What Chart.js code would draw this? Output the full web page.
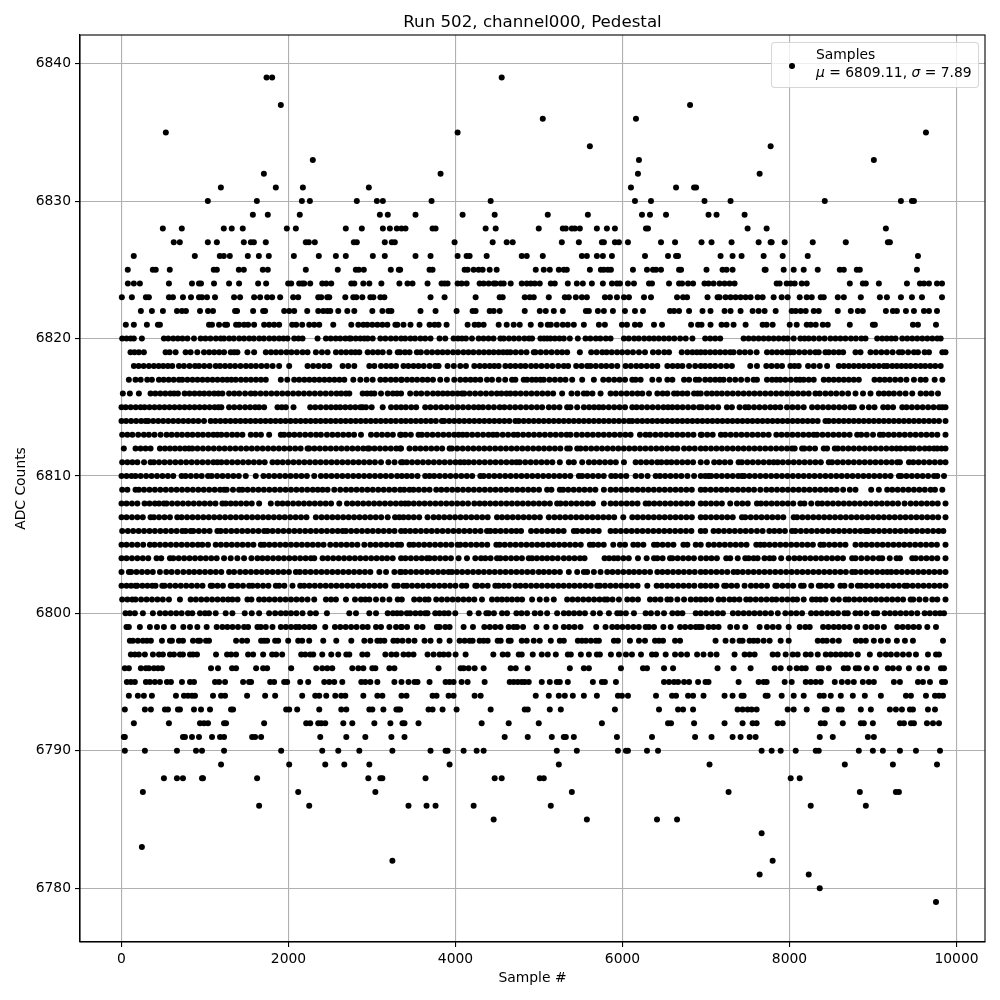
<!DOCTYPE html>
<html>
<head>
<meta charset="utf-8">
<title>Run 502, channel000, Pedestal</title>
<script src="https://cdn.jsdelivr.net/npm/chart.js@4"></script>
<style>
  body { margin: 0; background: #fff; }
  #wrap { position: relative; width: 1000px; height: 1000px; }
  #legend {
    position: absolute; left: 771px; top: 42px; width: 206px; height: 44px;
    background: rgba(255,255,255,0.8); border: 1px solid rgba(204,204,204,0.8); border-radius: 4px;
    font: 13.89px "DejaVu Sans", sans-serif; color: #000;
  }
  #legend .dot { position: absolute; left: 17px; top: 20px; width: 5.8px; height: 5.8px; border-radius: 50%; background: #000; }
  #legend .txt { position: absolute; left: 44px; top: 2px; line-height: 18px; white-space: nowrap; }
</style>
</head>
<body>
<div id="wrap">
  <canvas id="chart" width="1000" height="1000"></canvas>
  <div id="legend"><span class="dot"></span><div class="txt">Samples<br><i>μ</i> = 6809.11, <i>σ</i> = 7.89</div></div>
</div>
<script>
// Tick labels
const xTicks = [0, 2000, 4000, 6000, 8000, 10000];
const yTicks = [6780, 6790, 6800, 6810, 6820, 6830, 6840];

// ADC levels, and the sample numbers seen on each level
const levels = [6839,6837,6836,6835,6834,6833,6832,6831,6830,6829,6828,6827,6826,6825,6824,6823,6822,6821,
  6820,6819,6818,6817,6816,6815,6814,6813,6812,6811,6810,6809,6808,6807,6806,6805,6804,6803,6802,6801,6800,6799,
  6798,6797,6796,6795,6794,6793,6792,6791,6790,6789,6788,6787,6786,6785,6784,6783,6782,6781,6780,6779];

const samples = [
[1737,1804,4553],
[1908,6809],
[5045,6161],
[531,4025,9634],
[5609,7774],
[2291,6197,9010],
[1705,3821,6185,7642],
[1190,1848,2172,2962,6101,6641,6857,6881],
[1034,1621,2160,2256,2818,3058,3130,3713,4421,6149,6341,6982,7294,8422,9334,9466,9490],
[1573,1752,2135,3094,3189,3521,4085,4469,5105,5585,6233,6329,6521,7030,7126,7462],
[495,722,1225,1320,1452,1980,2088,2686,2878,3130,3214,3297,3353,3401,3725,3761,4361,4481,4997,5285,5321,5393,5429,5489,5693,5813,5909,6281,6305,7498,7726,9154],
[626,698,1034,1142,1465,1549,1585,1728,2207,2243,2315,2782,2818,3153,3237,3273,3989,4445,4613,4685,5273,5477,5753,5777,5909,5957,6065,6461,6629,6946,7066,7306,7630,7774,7786,7942,8278,8674,9178,9202],
[147,878,1177,1225,1297,1513,1645,1764,2064,2363,2567,2686,3010,3153,3521,3701,4025,4133,4169,4373,4793,4853,5045,5513,5573,5693,5765,5873,6269,6545,6641,6665,7174,7318,7426,7690,7918,8218,9538],
[75,375,410,578,1105,1142,1405,1465,1692,1752,2207,2590,2806,2842,2902,3225,3321,3337,3689,3725,4109,4145,4217,4277,4325,4409,4493,4961,5057,5129,5237,5297,5333,5609,5741,5777,5825,5861,6125,6293,6365,6401,6461,6677,6701,7006,7198,7246,7318,7702,7714,7930,8050,8170,8338,8602,8650,8806,8842,9526],
[76,148,220,568,844,928,952,1108,1288,1408,1636,1732,1996,2032,2128,2164,2188,2260,2404,2452,2512,2752,2788,2896,2968,3112,3328,3425,3485,3665,3833,3869,3905,4025,4073,4133,4289,4337,4397,4457,4481,4541,4577,4661,4793,4853,4901,4949,5009,5141,5189,5345,5453,5525,5633,5765,5873,5933,5969,6065,6137,6317,6353,6557,6677,6713,6785,6845,6982,7030,7090,7162,7222,7282,7342,7846,7882,7966,8014,8062,8146,8206,8722,8878,8914,9070,9406,9562,9610,9670,9766,9826],
[4,124,292,328,568,616,736,832,928,964,1024,1120,1348,1420,1588,1660,1744,1804,1900,2056,2116,2356,2392,2464,2488,2680,2776,2812,2884,2980,3016,3100,3148,3701,3869,4241,4529,4565,4829,4889,4937,5117,5309,5357,5441,5513,5573,5789,5849,5933,6017,6077,6257,6341,6653,6725,6773,7018,7138,7162,7234,7294,7354,7414,7474,7534,7618,7678,7810,7906,7978,8122,8206,8266,8374,8410,8578,8650,8854,9082,9166,9334,9466,9586,9826],
[232,364,496,664,724,772,940,1036,1096,1360,1384,1576,1696,1720,1948,2008,2068,2224,2356,2416,2464,2500,2596,2704,2788,3004,3124,3196,3232,3581,3761,4013,4205,4241,4409,4457,4529,4829,5009,5081,5177,5285,5561,5597,5705,5777,5885,6029,6149,6245,6569,6617,6677,6797,6958,7054,7222,7294,7414,7558,7630,7702,7834,8026,8074,8134,8194,8290,8350,8578,8734,8818,8878,9154,9238,9286,9394,9490,9610,9670,9766],
[52,148,304,436,460,1048,1084,1168,1240,1264,1372,1408,1468,1516,1588,1708,1768,1828,1888,2044,2092,2164,2248,2308,2368,2536,2752,2836,2896,2944,3004,3064,3124,3184,3280,3304,3377,3461,3569,3689,3749,3797,3893,4145,4229,4277,4337,4517,4613,4697,4769,4901,5021,5105,5141,5213,5285,5345,5417,5537,5717,5789,5993,6053,6149,6209,6377,6473,6821,6905,6946,7054,7186,7246,7330,7474,7678,7726,7798,8002,8086,8206,8254,8314,8398,8458,8722,8998,9022,9478,9538,9754],
// 6820
[8,60,110,148,244,508,560,620,675,730,790,868,948,1005,1065,1130,1188,1228,1290,1345,1410,1468,1530,1585,1650,1705,1770,1828,1888,1940,1988,2068,2120,2168,2348,2448,2505,2565,2620,2680,2728,2748,2805,2860,2908,2948,3008,3100,3160,3225,3285,3348,3397,3460,3515,3580,3637,3701,3809,3877,3977,4030,4077,4125,4197,4277,4335,4395,4455,4537,4577,4640,4700,4760,4825,4880,4917,5017,5060,5097,5137,5190,5245,5297,5369,5465,5557,5615,5680,5735,5800,5857,6017,6075,6140,6195,6260,6320,6377,6435,6497,6557,6620,6690,6757,6837,6990,7050,7110,7170,7450,7510,7570,7630,7690,7750,7810,7870,7930,7978,8050,8130,8180,8230,8290,8355,8420,8490,8550,8610,8670,8735,8795,8860,8910,9050,9110,9165,9220,9270,9350,9410,9470,9530,9590,9650,9710,9770,9810],
// 6819
[108,156,208,268,528,576,648,768,828,908,988,1050,1110,1170,1228,1308,1350,1388,1508,1588,1728,1790,1850,1910,1975,2035,2100,2168,2228,2328,2400,2468,2568,2630,2690,2750,2800,2848,2948,3010,3070,3128,3208,3308,3337,3395,3450,3537,3585,3657,3720,3785,3845,3905,3970,4030,4095,4155,4215,4280,4340,4400,4457,4517,4570,4617,4657,4720,4785,4850,4937,4957,5020,5085,5150,5217,5277,5337,5489,5625,5690,5757,5809,5870,5935,5995,6060,6125,6197,6269,6365,6430,6500,6557,6709,6777,6837,6890,6937,6990,7050,7110,7170,7230,7290,7330,7402,7465,7530,7606,7730,7790,7850,7910,7970,8010,8050,8115,8180,8245,8310,8350,8430,8470,8530,8590,8642,8790,8850,8970,9035,9100,9165,9235,9310,9350,9420,9490,9538,9618,9670,9830,9868],
// 6818
[148,205,265,328,388,445,500,555,608,688,748,815,880,928,990,1055,1128,1180,1240,1300,1360,1425,1490,1550,1610,1675,1740,1810,1888,2008,2228,2295,2360,2428,2488,2648,2715,2788,2968,3028,3108,3170,3230,3288,3377,3435,3497,3557,3620,3690,3757,3797,3905,3980,4057,4125,4225,4290,4350,4410,4465,4517,4597,4657,4717,4780,4837,4905,4965,5030,5095,5160,5230,5297,5349,5445,5510,5577,5617,5680,5745,5805,5870,5937,6037,6100,6165,6225,6290,6355,6417,6537,6600,6660,6717,6797,6870,6937,6990,7050,7110,7178,7245,7310,7530,7610,7722,7785,7850,7910,8010,8060,8110,8222,8290,8362,8450,8590,8650,8710,8770,8830,8890,8950,9010,9070,9130,9170,9230,9285,9340,9395,9450,9510,9570,9625,9685,9745,9810],
// 6817
[88,168,230,308,364,448,505,565,625,688,728,790,850,910,970,1030,1090,1150,1210,1265,1316,1368,1430,1490,1550,1610,1670,1728,1908,1985,2068,2128,2190,2250,2310,2370,2430,2490,2550,2610,2668,2776,2860,2935,3008,3100,3160,3225,3285,3348,3357,3420,3480,3540,3605,3665,3730,3817,3897,3985,4057,4120,4180,4237,4297,4377,4437,4517,4595,4677,4717,4817,4857,4915,4965,5017,5057,5125,5190,5255,5317,5397,5517,5657,5769,5835,5900,5965,6030,6117,6157,6217,6357,6437,6537,6597,6737,6797,6877,6917,6990,7050,7110,7165,7210,7282,7350,7420,7495,7570,7610,7730,7790,7842,7890,7950,8015,8080,8125,8170,8230,8290,8410,8470,8530,8590,8650,8710,8770,8830,9018,9080,9140,9200,9265,9330,9400,9490,9570,9630,9738,9830],
// 6816
[16,100,208,348,405,465,525,585,630,676,756,815,875,935,990,1050,1110,1160,1208,1288,1350,1410,1480,1548,1600,1665,1730,1795,1860,1925,1990,2055,2120,2185,2250,2315,2380,2445,2510,2575,2630,2688,2728,2888,2940,2988,3028,3108,3188,3250,3300,3348,3457,3529,3590,3660,3730,3790,3849,3905,3965,4025,4077,4105,4170,4235,4300,4365,4430,4495,4550,4610,4657,4717,4780,4845,4910,4975,5040,5105,5169,5277,5389,5460,5537,5577,5640,5737,5857,5920,5985,6050,6115,6180,6237,6317,6417,6480,6537,6617,6657,6717,6777,6857,6900,6937,7010,7070,7130,7190,7255,7320,7385,7450,7515,7580,7645,7710,7775,7840,7905,7970,8035,8100,8165,8230,8310,8362,8430,8495,8560,8630,8702,8790,8880,8970,9070,9130,9190,9250,9320,9390,9470,9570,9635,9700,9778],
// 6815
[0,50,110,170,228,276,335,395,455,515,575,635,695,755,815,875,935,995,1055,1115,1160,1196,1288,1350,1415,1480,1540,1600,1648,1708,1868,1920,1968,2060,2260,2320,2385,2450,2510,2568,2620,2680,2740,2800,2860,2888,2928,2996,3128,3228,3290,3348,3405,3470,3529,3637,3700,3765,3830,3895,3960,4025,4090,4155,4220,4277,4329,4395,4460,4529,4585,4650,4715,4780,4845,4910,4975,5037,5117,5180,5245,5337,5377,5457,5537,5600,5660,5717,5769,5835,5900,5965,6030,6117,6169,6230,6295,6360,6425,6490,6545,6597,6657,6720,6785,6850,6917,6950,7015,7080,7145,7250,7310,7402,7470,7510,7575,7640,7705,7770,7830,7890,7970,8035,8100,8170,8270,8335,8400,8465,8530,8595,8660,8730,8770,8870,8950,9018,9122,9178,9240,9350,9402,9465,9530,9595,9660,9725,9790,9830,9868],
// 6814
[0,55,115,175,235,288,320,380,440,500,560,620,680,740,800,860,920,988,1068,1125,1185,1245,1305,1365,1425,1485,1545,1605,1665,1725,1785,1845,1905,1965,2025,2085,2145,2205,2265,2325,2385,2445,2505,2565,2625,2685,2745,2805,2865,2925,2985,3045,3105,3165,3225,3285,3348,3405,3465,3525,3585,3645,3705,3765,3837,3865,3925,3985,4045,4105,4165,4225,4285,4345,4405,4465,4525,4585,4645,4717,4757,4817,4877,4937,4997,5057,5117,5177,5237,5297,5357,5417,5477,5537,5597,5657,5717,5777,5837,5897,5957,6017,6077,6117,6177,6237,6297,6357,6417,6477,6537,6597,6657,6717,6777,6837,6897,6957,7017,7077,7137,7197,7257,7317,7377,7437,7497,7557,7617,7677,7737,7797,7857,7917,7977,8037,8097,8157,8217,8277,8337,8430,8470,8530,8590,8650,8710,8770,8830,8890,8950,9010,9070,9130,9190,9250,9310,9370,9430,9490,9550,9610,9670,9730,9790,9868],
// 6813
[8,70,130,200,268,328,395,468,540,600,665,725,790,850,915,975,1040,1100,1148,1196,1260,1325,1385,1448,1548,1610,1670,1768,1908,1948,2008,2070,2135,2200,2265,2330,2388,2460,2525,2590,2655,2720,2785,2868,2988,3055,3120,3185,3250,3348,3337,3400,3465,3557,3597,3660,3725,3790,3855,3920,3985,4037,4085,4137,4200,4265,4330,4395,4449,4497,4565,4630,4697,4745,4810,4875,4940,5005,5070,5135,5200,5265,5330,5377,5449,5515,5580,5645,5710,5775,5840,5905,5970,6035,6097,6209,6277,6329,6395,6460,6525,6590,6655,6720,6785,6850,6937,6950,7015,7080,7178,7230,7295,7360,7425,7490,7555,7620,7685,7750,7842,7905,7970,8035,8100,8165,8230,8290,8330,8395,8460,8525,8590,8655,8720,8810,8858,8925,9000,9082,9122,9185,9250,9315,9380,9445,9510,9575,9640,9705,9770,9868],
// 6812
[28,168,228,288,348,460,520,580,640,700,760,808,848,910,975,1040,1105,1170,1235,1300,1365,1430,1495,1560,1625,1690,1755,1820,1885,1950,2015,2080,2145,2228,2248,2310,2375,2440,2505,2570,2635,2700,2765,2830,2895,2948,2968,3030,3095,3160,3225,3290,3348,3337,3449,3517,3580,3645,3710,3775,3840,3929,3957,4020,4085,4150,4215,4280,4345,4410,4475,4540,4605,4670,4735,4800,4865,4930,4995,5060,5125,5190,5255,5337,5369,5457,5497,5560,5625,5690,5755,5820,5885,5950,6015,6080,6145,6210,6275,6340,6405,6470,6535,6600,6657,6737,6800,6865,6937,6995,7060,7125,7190,7255,7320,7385,7450,7515,7580,7645,7710,7775,7840,7905,7970,8030,8062,8150,8178,8240,8305,8410,8450,8542,8578,8640,8705,8770,8835,8900,8965,9030,9095,9160,9225,9282,9330,9390,9450,9490,9555,9620,9675,9730,9770,9820,9868],
// 6811
[8,70,130,190,270,348,388,450,515,580,645,710,775,840,905,970,1035,1100,1148,1196,1260,1325,1390,1455,1520,1585,1650,1715,1808,1868,1930,1995,2060,2125,2190,2255,2320,2385,2450,2515,2580,2645,2710,2775,2840,2905,2970,3035,3108,3196,3270,3348,3369,3417,3480,3545,3610,3675,3740,3805,3870,3935,4000,4057,4105,4157,4220,4285,4350,4415,4480,4545,4610,4675,4729,4769,4835,4900,4965,5030,5095,5160,5249,5357,5417,5517,5597,5660,5725,5790,5855,5920,6017,6157,6220,6285,6350,6417,6465,6529,6585,6650,6715,6780,6845,6937,7010,7098,7160,7225,7290,7390,7430,7495,7560,7625,7690,7755,7810,7858,7920,7985,8050,8115,8180,8245,8310,8375,8470,8510,8575,8640,8705,8770,8835,8900,8965,9030,9095,9160,9225,9290,9322,9430,9482,9545,9610,9675,9740,9805,9868],
// 6810
[0,60,120,168,230,295,360,425,490,555,620,720,768,830,895,960,1036,1080,1145,1210,1275,1340,1405,1488,1608,1700,1765,1830,1895,1960,2025,2090,2155,2220,2308,2388,2450,2515,2580,2645,2710,2775,2840,2905,2970,3035,3100,3165,3230,3300,3357,3417,3477,3545,3637,3689,3745,3810,3875,3940,4005,4070,4135,4200,4297,4337,4400,4465,4530,4595,4660,4725,4790,4855,4920,4985,5050,5115,5180,5245,5310,5375,5477,5517,5580,5645,5710,5775,5865,5917,5980,6045,6157,6225,6300,6397,6449,6510,6575,6640,6705,6777,6857,6937,6990,7030,7062,7125,7190,7255,7320,7385,7430,7458,7520,7585,7650,7715,7780,7845,7910,7975,8040,8105,8170,8235,8300,8365,8430,8495,8560,8625,8690,8755,8820,8885,8950,9015,9080,9145,9210,9310,9338,9400,9465,9530,9595,9660,9730,9770,9850],
// 6809
[8,70,168,208,270,335,400,465,530,595,660,725,790,855,920,985,1050,1115,1180,1228,1260,1335,1408,1448,1510,1575,1640,1705,1770,1835,1900,1965,2030,2095,2160,2225,2290,2350,2408,2468,2548,2620,2688,2750,2815,2880,2945,3010,3075,3140,3205,3270,3337,3385,3449,3497,3560,3625,3689,3769,3830,3895,3960,4025,4090,4155,4220,4285,4350,4415,4480,4545,4610,4675,4740,4805,4870,4935,5000,5097,5149,5249,5289,5350,5415,5480,5545,5610,5675,5777,5857,5920,5985,6050,6115,6180,6245,6310,6375,6440,6505,6570,6635,6700,6765,6830,6937,6990,7055,7120,7185,7250,7315,7380,7445,7510,7575,7650,7722,7785,7850,7915,7980,8045,8110,8175,8240,8305,8370,8435,8500,8565,8642,8722,8790,8978,9070,9170,9230,9295,9360,9425,9490,9555,9620,9690,9742,9830],
// 6808
[0,60,125,190,276,336,400,450,508,540,605,670,735,800,865,930,995,1060,1125,1208,1248,1308,1368,1430,1495,1560,1648,1788,1868,1928,1990,2055,2120,2185,2250,2315,2380,2445,2510,2608,2700,2765,2830,2895,2960,3025,3090,3155,3220,3285,3348,3397,3437,3500,3565,3630,3695,3760,3825,3890,3955,4020,4085,4150,4225,4289,4350,4415,4480,4545,4610,4675,4740,4805,4870,4935,5000,5065,5130,5217,5257,5320,5385,5450,5515,5580,5645,5777,5857,5920,5985,6050,6115,6180,6277,6317,6380,6445,6510,6575,6640,6705,6770,6835,6937,6995,7060,7125,7190,7290,7370,7435,7500,7610,7658,7720,7785,7850,7915,7980,8045,8130,8178,8260,8338,8390,8455,8520,8585,8650,8715,8780,8845,8910,8975,9040,9105,9170,9235,9300,9378,9450,9515,9580,9645,9710,9775,9868],
// 6807
[0,60,125,190,255,348,388,450,515,580,668,720,785,850,915,980,1045,1110,1175,1240,1305,1370,1435,1500,1565,1630,1695,1760,1825,1890,1955,2020,2085,2150,2215,2328,2396,2460,2525,2590,2655,2720,2785,2850,2915,2980,3045,3110,3188,3276,3328,3377,3437,3500,3565,3665,3737,3800,3865,3930,3995,4060,4125,4190,4255,4320,4385,4497,4557,4620,4685,4750,4815,4880,4945,5010,5117,5185,5250,5315,5380,5445,5510,5575,5640,5705,5770,5835,5900,6009,6117,6180,6245,6310,6375,6440,6505,6570,6635,6700,6765,6830,6937,6995,7060,7125,7190,7255,7320,7430,7470,7535,7600,7665,7730,7795,7860,7925,8050,8090,8155,8220,8285,8350,8415,8480,8545,8610,8675,8740,8805,8870,8935,9000,9065,9130,9195,9260,9325,9390,9455,9520,9585,9650,9715,9780,9868],
// 6806
[8,76,140,205,270,335,400,465,530,595,660,728,768,828,860,925,990,1055,1148,1188,1250,1315,1380,1445,1510,1575,1640,1708,1748,1810,1875,1940,2005,2070,2135,2200,2265,2330,2395,2460,2525,2590,2648,2688,2750,2815,2880,2945,3010,3075,3140,3205,3270,3348,3397,3457,3520,3585,3650,3715,3780,3845,3910,3975,4040,4105,4170,4235,4300,4377,4417,4477,4540,4605,4670,4729,4785,4905,4970,5035,5100,5165,5230,5295,5417,5457,5520,5585,5650,5715,5857,5917,5980,6045,6110,6175,6240,6305,6370,6435,6500,6565,6630,6695,6760,6825,6937,6990,7090,7150,7215,7280,7345,7410,7475,7540,7610,7678,7758,7818,7880,7945,8030,8070,8135,8200,8265,8330,8395,8460,8525,8590,8655,8720,8785,8850,8910,8942,9005,9070,9135,9200,9265,9330,9395,9460,9525,9590,9655,9720,9785,9842],
// 6805
[0,60,125,190,260,340,396,460,525,590,655,720,785,850,915,968,1036,1128,1190,1255,1320,1385,1450,1515,1580,1668,1708,1770,1835,1900,1965,2030,2095,2160,2225,2290,2355,2420,2500,2568,2630,2695,2760,2825,2908,2980,3045,3110,3175,3240,3305,3348,3449,3497,3560,3625,3690,3755,3820,3885,3950,4025,4057,4120,4185,4250,4315,4380,4489,4529,4590,4655,4720,4785,4850,4915,4980,5045,5110,5175,5240,5305,5370,5435,5500,5609,5649,5710,5775,5889,5969,6030,6129,6185,6250,6377,6417,6480,6545,6610,6729,6777,6877,6937,7030,7095,7160,7225,7290,7355,7420,7485,7602,7650,7698,7760,7825,7890,7955,8020,8085,8150,8215,8280,8370,8410,8475,8540,8605,8670,8790,8858,8920,8985,9050,9115,9180,9245,9310,9375,9440,9505,9570,9635,9700,9765,9868],
// 6804
[0,60,125,190,255,320,420,476,580,620,685,750,815,880,945,1010,1075,1140,1228,1308,1388,1468,1556,1628,1688,1750,1815,1880,1945,2010,2075,2140,2205,2268,2308,2408,2470,2535,2600,2665,2730,2795,2860,2925,2990,3055,3120,3180,3248,3348,3400,3465,3530,3595,3657,3689,3750,3815,3880,3945,4037,4137,4237,4305,4357,4420,4497,4537,4600,4665,4730,4795,4877,4917,4975,5037,5097,5160,5225,5297,5360,5425,5490,5545,5785,5840,5897,5945,6010,6075,6185,6289,6377,6417,6480,6569,6597,6660,6725,6790,6855,6937,7002,7065,7130,7242,7290,7380,7470,7510,7570,7618,7700,7762,7810,7900,7990,8058,8120,8185,8250,8315,8380,8445,8510,8575,8640,8750,8790,8860,8930,9000,9070,9110,9200,9282,9322,9470,9510,9575,9640,9705,9770,9868],
// 6803
[0,88,116,180,245,310,375,460,536,600,670,740,808,870,935,1000,1065,1130,1195,1288,1348,1420,1485,1550,1615,1680,1745,1810,1875,1940,2005,2088,2136,2200,2265,2330,2395,2460,2525,2590,2655,2720,2785,2850,2915,2980,3088,3168,3268,3348,3337,3400,3465,3530,3595,3660,3725,3790,3855,3917,3957,4017,4080,4145,4210,4275,4340,4405,4470,4535,4600,4665,4730,4795,4860,4925,4997,5057,5120,5185,5250,5357,5457,5537,5577,5657,5737,5817,5880,5945,6010,6077,6137,6200,6265,6330,6417,6477,6540,6605,6670,6735,6800,6865,6937,6995,7060,7125,7190,7255,7330,7378,7440,7505,7570,7635,7700,7765,7830,7895,7960,8025,8090,8155,8220,8285,8350,8415,8480,8545,8610,8675,8750,8790,8855,8920,8985,9050,9115,9170,9218,9280,9345,9410,9475,9540,9605,9670,9735,9800,9868],
// 6802
[0,60,115,168,188,250,310,368,408,488,516,580,645,710,775,840,905,970,1068,1088,1150,1215,1308,1328,1390,1455,1528,1568,1630,1695,1760,1848,1888,1950,2048,2140,2188,2250,2315,2380,2445,2510,2575,2640,2705,2770,2835,2900,2965,3030,3095,3160,3268,3308,3377,3417,3480,3545,3610,3675,3740,3805,3870,3935,4000,4077,4129,4237,4257,4320,4385,4477,4517,4577,4637,4717,4777,4840,4905,4970,5035,5100,5165,5230,5295,5360,5425,5490,5555,5620,5697,5729,5790,5855,5920,5985,6050,6115,6180,6297,6409,6470,6535,6600,6665,6730,6795,6860,6937,6995,7060,7125,7218,7242,7305,7370,7462,7538,7600,7665,7730,7830,7850,7915,7980,8045,8138,8170,8260,8350,8378,8440,8505,8610,8658,8740,8818,8858,8920,8985,9050,9115,9180,9245,9310,9378,9410,9475,9540,9605,9670,9735,9800,9868],
// 6801
[8,70,128,168,235,300,365,430,495,568,700,828,890,955,1020,1085,1150,1215,1276,1328,1390,1508,1556,1648,1708,1770,1835,1900,1965,2030,2095,2160,2228,2308,2448,2510,2568,2688,2796,2868,2920,2968,3048,3128,3208,3308,3357,3505,3570,3635,3677,3769,3835,3900,3965,4030,4095,4160,4225,4317,4437,4500,4557,4617,4677,4740,4797,4917,5009,5090,5177,5337,5400,5465,5530,5595,5660,5725,5785,5817,5880,5957,6057,6120,6185,6329,6390,6455,6537,6577,6657,6737,6817,6880,6937,6995,7060,7150,7210,7282,7338,7400,7482,7530,7595,7660,7725,7790,7842,7910,7975,8040,8090,8170,8270,8320,8370,8430,8522,8590,8670,8710,8775,8840,8905,8970,9035,9100,9165,9230,9295,9360,9450,9482,9555,9630,9710,9770,9868],
// 6800
[48,100,160,256,376,460,525,590,655,720,796,848,940,1000,1048,1128,1248,1328,1476,1560,1648,1768,1840,1908,1968,2030,2095,2168,2260,2328,2460,2728,2808,2968,3048,3188,3250,3300,3348,3417,3457,3520,3580,3637,3665,3757,3809,3865,3917,3997,4169,4277,4369,4397,4460,4557,4617,4729,4790,4857,4949,5017,5097,5217,5297,5357,5420,5485,5550,5649,5729,5837,5937,5977,6040,6137,6277,6340,6417,6497,6597,6660,6717,6877,6937,7002,7070,7138,7202,7322,7385,7450,7515,7580,7645,7710,7778,7860,7950,8018,8082,8150,8258,8320,8385,8450,8515,8580,8658,8698,8790,8850,8922,9010,9050,9138,9202,9265,9330,9395,9460,9530,9618,9680,9745,9802,9850],
// 6799
[60,88,220,340,425,508,620,740,820,908,1020,1140,1208,1268,1330,1395,1468,1516,1628,1668,1728,1808,1908,1968,2030,2088,2128,2190,2250,2308,2440,2556,2620,2685,2750,2815,2888,2948,3048,3108,3208,3288,3348,3357,3420,3537,3605,3777,3809,3877,3929,4097,4209,4345,4410,4475,4540,4637,4697,4737,4809,4969,5089,5197,5297,5360,5425,5497,5685,5797,5877,5937,6000,6065,6130,6195,6277,6317,6377,6489,6577,6689,6750,6815,6877,6917,6950,7030,7090,7150,7290,7370,7470,7642,7730,7800,7870,7990,8122,8190,8242,8402,8465,8530,8590,8655,8720,8810,8910,8980,9050,9130,9290,9355,9420,9485,9550,9650,9754],
// 6798
[100,136,196,256,304,352,484,580,604,688,736,856,916,940,1012,1048,1372,1444,1504,1672,1708,1744,1840,1876,1996,2116,2164,2248,2416,2572,2752,2908,2980,3064,3100,3148,3256,3304,3365,3437,3509,3629,3701,3809,3929,4049,4109,4169,4205,4289,4337,4385,4505,4541,4637,4661,4793,4853,4937,5009,5141,5249,5297,5465,5513,5561,5621,5681,5717,5897,5945,6089,6197,6269,6389,6437,6485,6629,6689,7114,7234,7318,7402,7438,7522,7570,7618,7690,7762,7894,7990,8338,8398,8446,8518,8590,8794,8854,8914,9010,9094,9178,9286,9382,9478,9838],
// 6797
[112,160,208,280,376,448,496,580,628,700,736,820,856,904,1132,1264,1312,1372,1516,1576,1696,1804,1852,1924,2152,2200,2260,2296,2404,2512,2596,2692,2728,2884,2944,3160,3232,3292,3377,3437,3497,3665,3737,3809,3857,3917,4001,4121,4453,4565,4625,4757,4793,4925,5033,5105,5201,5345,5381,5501,5597,5693,5729,5861,5957,6041,6113,6221,6353,6401,6517,6629,6701,6773,6893,6970,7054,7126,7342,7462,7522,7582,7798,7858,7954,8038,8098,8194,8254,8338,8434,8494,8554,8614,8674,8734,8818,8962,9082,9154,9214,9286,9358,9430,9514,9658,9754,9790],
// 6796
[40,88,232,292,328,388,436,484,1072,1156,1324,1372,1612,1696,1744,2032,2332,2404,2464,2524,2764,2836,2896,3004,3040,3208,3268,3797,4061,4097,4157,4229,4337,4661,4721,4865,5369,5537,5597,5981,6245,6293,6497,6605,7138,7330,7534,7822,7894,8002,8086,8146,8194,8350,8386,8470,8650,8698,8794,8830,8926,9034,9178,9238,9310,9430,9554,9646,9814,9850],
// 6795
[64,112,160,292,340,400,460,544,592,724,820,868,1120,1168,1240,1456,1528,1552,1780,1828,1948,1984,2140,2236,2428,2488,2548,2644,2872,2920,2980,3064,3268,3353,3437,3509,3545,3689,3881,3929,3977,4073,4145,4349,4649,4697,4745,4793,4829,4877,5033,5129,5213,5249,5345,5645,5753,5789,5921,6497,6557,6617,6665,6737,6797,6905,6994,7030,7390,7630,7690,7726,7942,8026,8194,8254,8314,8374,8542,8626,8698,8770,8878,8950,9010,9250,9322,9538,9598,9682,9826,9862],
// 6794
[88,196,268,364,652,748,796,844,880,1096,1192,1240,1504,1720,1840,2164,2320,2368,2452,2560,2632,2680,2896,3064,3124,3353,3413,3725,3773,3917,3977,4229,4301,4961,5117,5237,5309,5405,5537,5693,5945,5993,6065,6401,6593,6641,6785,6845,6970,7222,7318,7426,7450,7714,7738,7906,8050,8170,8362,8410,8494,8614,8758,8902,9094,9394,9454,9634,9742,9790,9838],
// 6793
[40,280,352,520,556,676,700,868,952,1060,1312,1336,1972,2008,2104,2368,2632,2692,2968,3004,3136,3292,3316,3337,3677,3725,3845,4013,4421,4829,4865,5129,5261,5909,6437,6665,6725,6845,7378,7438,7498,7546,7606,7978,8050,8206,8422,8446,8590,8626,8854,8974,9202,9274,9346,9442,9478,9658,9742],
// 6792
[148,568,940,988,1036,1228,1252,1708,2212,2260,2356,2392,2440,2656,2764,3028,3220,3365,3389,3557,4313,4637,4997,5753,6545,6581,6857,7222,7438,7558,7606,7858,7918,8374,8422,8638,8854,8890,8998,9322,9370,9454,9490,9646,9718,9790],
// 6791
[28,40,736,760,844,928,1084,1180,1228,1564,1600,1672,2380,2692,2920,3232,3389,4589,4865,5153,5297,5321,5417,5933,6353,6869,7066,7318,7414,7522,7594,8362,8518,8938,9010],
// 6790
[40,280,664,892,964,1228,1912,2404,2596,2848,3244,3701,3881,3905,4097,4253,4337,5213,5453,5945,6041,6065,6293,6425,7666,7786,7894,8074,8314,8350,8830,8998,9118,9322,9514,9802],
// 6789
[1192,2008,2440,2668,2968,3929,5237,7042,8662,9238,9766],
// 6788
[508,664,736,964,976,1624,2956,3100,3124,3641,4469,4553,5009,5057,8014,8122],
// 6787
[256,2116,3040,5393,7270,8842,9274,9310],
// 6786
[1648,2248,3437,3653,3761,4217,5141,8254,8914],
// 6785
[4457,5573,6413,6653],
// 6784
[7666],
// 6783
[244],
// 6782
[3244,7798],
// 6781
[7642,8230],
// 6780
[8362],
// 6779
[9754]
];

// Build the scatter points from the per level lists
const points = [];
levels.forEach((level, i) => {
    samples[i].forEach(s => points.push({ x: s, y: level }));
});

// Closes the axes box, Chart.js only draws the left and bottom sides
const frameBox = {
    id: 'frameBox',
    afterDatasetsDraw(chart) {
        const { ctx, chartArea: a } = chart;
        ctx.save();
        ctx.strokeStyle = '#000';
        ctx.lineWidth = 1.1;
        ctx.strokeRect(a.left, a.top, a.right - a.left, a.bottom - a.top);
        ctx.restore();
    }
};

const tickFont = { family: 'DejaVu Sans', size: 13.89 };

new Chart(document.getElementById('chart'), {
    type: 'scatter',
    data: {
        datasets: [{
            label: 'Samples',
            data: points,
            backgroundColor: '#000',
            borderWidth: 0,
            pointRadius: 3,
            pointHoverRadius: 3
        }]
    },
    options: {
        responsive: false,
        animation: false,
        layout: { padding: { right: 15 } },
        plugins: {
            legend: { display: false },
            tooltip: { enabled: false },
            title: {
                display: true,
                text: 'Run 502, channel000, Pedestal',
                color: '#000',
                fullSize: false,
                font: { family: 'DejaVu Sans', size: 16.67, weight: 'normal', lineHeight: 1.2 },
                padding: { top: 13, bottom: 2 }
            }
        },
        scales: {
            x: {
                type: 'linear',
                min: -497,
                max: 10341,
                afterFit: s => { s.height = 58; },
                afterBuildTicks: s => { s.ticks = xTicks.map(v => ({ value: v })); },
                grid: { color: '#b0b0b0', lineWidth: 1.1, tickColor: '#000', tickLength: 5, tickWidth: 1.1 },
                border: { color: '#000', width: 1.1 },
                ticks: { color: '#000', font: tickFont, padding: 4, maxRotation: 0, callback: v => String(v) },
                title: { display: true, text: 'Sample #', color: '#000', font: tickFont, padding: { top: 0, bottom: 13 } }
            },
            y: {
                type: 'linear',
                min: 6776.08,
                max: 6842.09,
                afterFit: s => { s.width = 80; },
                afterBuildTicks: s => { s.ticks = yTicks.map(v => ({ value: v })); },
                grid: { color: '#b0b0b0', lineWidth: 1.1, tickColor: '#000', tickLength: 5, tickWidth: 1.1 },
                border: { color: '#000', width: 1.1 },
                ticks: { color: '#000', font: tickFont, padding: 4, callback: v => String(v) },
                title: { display: true, text: 'ADC Counts', color: '#000', font: tickFont, padding: { top: 13, bottom: 0 } }
            }
        }
    },
    plugins: [frameBox]
});
</script>
</body>
</html>
